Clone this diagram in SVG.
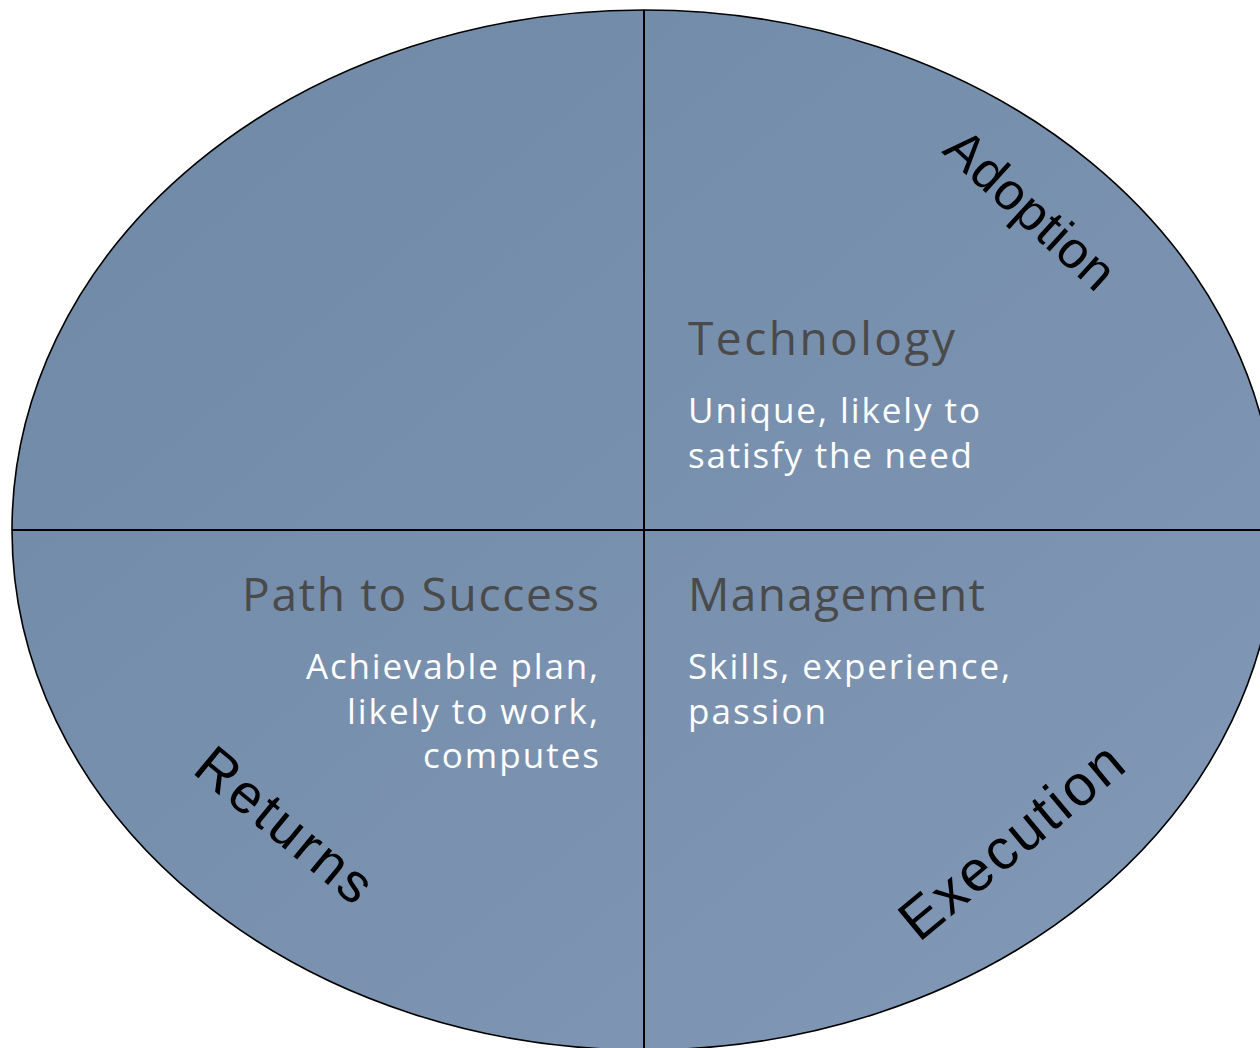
<svg xmlns="http://www.w3.org/2000/svg" width="1260" height="1048" viewBox="0 0 1260 1048">
  <defs>
    <linearGradient id="fillGrad" x1="0" y1="0" x2="1" y2="1">
      <stop offset="0" stop-color="#6e88a5"/>
      <stop offset="1" stop-color="#8299b7"/>
    </linearGradient>
  </defs>
  <style>
    .head { font-family: "Open Sans", "Liberation Sans", sans-serif; font-size: 46px; fill: #4a4a4a; }
    .body { font-family: "Open Sans", "Liberation Sans", sans-serif; font-size: 35px; fill: #ffffff; }
    .ring { font-family: "Liberation Sans", Arial, sans-serif; fill: #000000; }
    .divider { stroke: #000000; stroke-width: 2; }
  </style>
  <rect width="1260" height="1048" fill="#ffffff"/>
  <g id="ellipse">
    <ellipse cx="644" cy="530" rx="632" ry="520" fill="url(#fillGrad)" stroke="#000000" stroke-width="1.6"/>
  </g>
  <g id="connectors">
    <line class="divider" x1="644" y1="10" x2="644" y2="1050"/>
    <line class="divider" x1="12" y1="530" x2="1276" y2="530"/>
  </g>
  <g id="node-technology">
    <text class="head" x="688" y="355" textLength="267" lengthAdjust="spacing">Technology</text>
    <text class="body" x="688" y="423" textLength="292" lengthAdjust="spacing">Unique, likely to</text>
    <text class="body" x="688" y="468" textLength="284" lengthAdjust="spacing">satisfy the need</text>
  </g>
  <g id="node-path">
    <text class="head" x="242" y="611" textLength="357" lengthAdjust="spacing">Path to Success</text>
    <text class="body" x="306" y="679" textLength="292" lengthAdjust="spacing">Achievable plan,</text>
    <text class="body" x="347" y="724" textLength="251" lengthAdjust="spacing">likely to work,</text>
    <text class="body" x="423" y="768" textLength="176" lengthAdjust="spacing">computes</text>
  </g>
  <g id="node-management">
    <text class="head" x="688" y="611" textLength="297" lengthAdjust="spacing">Management</text>
    <text class="body" x="688" y="679" textLength="322" lengthAdjust="spacing">Skills, experience,</text>
    <text class="body" x="688" y="724" textLength="138" lengthAdjust="spacing">passion</text>
  </g>
  <g id="label-adoption">
    <text class="ring" font-size="52" transform="translate(941 152) rotate(42.4)" textLength="210" lengthAdjust="spacing">Adoption</text>
  </g>
  <g id="label-returns">
    <text class="ring" font-size="55" transform="translate(191 772) rotate(39.5)" textLength="212" lengthAdjust="spacing">Returns</text>
  </g>
  <g id="label-execution">
    <text class="ring" font-size="57" transform="translate(919 943) rotate(-39.7)" textLength="272" lengthAdjust="spacing">Execution</text>
  </g>
</svg>
